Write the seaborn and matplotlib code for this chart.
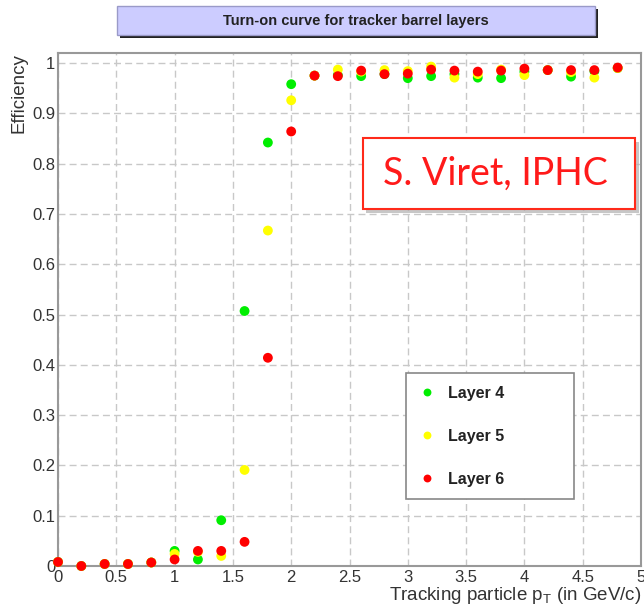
import numpy as np
import pandas as pd
import matplotlib
matplotlib.use("Agg")
import matplotlib.pyplot as plt
import matplotlib.patches as mpatches
from matplotlib.ticker import MultipleLocator, FuncFormatter
import seaborn as sns

# data
pt = [0.0, 0.2, 0.4, 0.6, 0.8, 1.0, 1.2, 1.4, 1.6, 1.8, 2.0, 2.2, 2.4,
      2.6, 2.8, 3.0, 3.2, 3.4, 3.6, 3.8, 4.0, 4.2, 4.4, 4.6, 4.8]
layer4 = [0.008, 0.0, 0.004, 0.004, 0.007, 0.030, 0.013, 0.091, 0.507, 0.842, 0.958, 0.975, 0.976,
          0.974, 0.978, 0.970, 0.974, 0.978, 0.971, 0.970, 0.983, 0.986, 0.973, 0.984, 0.990]
layer5 = [0.008, 0.0, 0.004, 0.004, 0.007, 0.024, 0.028, 0.020, 0.191, 0.667, 0.926, 0.975, 0.987,
          0.983, 0.986, 0.984, 0.993, 0.971, 0.978, 0.987, 0.976, 0.986, 0.982, 0.971, 0.990]
layer6 = [0.008, 0.0, 0.004, 0.004, 0.007, 0.013, 0.030, 0.030, 0.048, 0.414, 0.864, 0.975, 0.974,
          0.985, 0.978, 0.979, 0.987, 0.985, 0.983, 0.985, 0.989, 0.986, 0.986, 0.986, 0.991]
layer_names = ["Layer 4", "Layer 5", "Layer 6"]
layer_colors = ["#00ee00", "#ffff00", "#ff0000"]

df = pd.concat([
    pd.DataFrame({"pt": pt, "eff": vals, "layer": name})
    for name, vals in zip(layer_names, [layer4, layer5, layer6])
], ignore_index=True)

sns.set_style("white")
plt.rcParams["font.family"] = ["Liberation Sans", "DejaVu Sans"]

W, H = 644, 614
fig = plt.figure(figsize=(W / 100, H / 100), dpi=100)
# axes frame in pixels: left 58, right 641, top 53, bottom 566
ax = fig.add_axes([58 / W, 1 - 566 / H, (641 - 58) / W, (566 - 53) / H])

sns.scatterplot(data=df, x="pt", y="eff", hue="layer", palette=dict(zip(layer_names, layer_colors)),
                s=50, edgecolor="none", linewidth=0, clip_on=False, zorder=3, ax=ax)

ax.set_xlim(0, 5)
ax.set_ylim(0, 1.02)
ax.xaxis.set_major_locator(MultipleLocator(0.5))
ax.xaxis.set_minor_locator(MultipleLocator(0.1))
ax.yaxis.set_major_locator(MultipleLocator(0.1))
ax.yaxis.set_minor_locator(MultipleLocator(0.02))
fmt = FuncFormatter(lambda v, p: "%g" % round(v, 2))
ax.xaxis.set_major_formatter(fmt)
ax.yaxis.set_major_formatter(fmt)
ax.tick_params(which="both", direction="in", colors="#888888", labelcolor="#333333",
               labelsize=12, width=1.2)
ax.tick_params(which="major", length=11)
ax.tick_params(which="minor", length=5)
ax.tick_params(axis="x", pad=3)
ax.tick_params(axis="y", pad=2)
ax.grid(True, which="major", linestyle=(0, (5, 3)), color="#c8c8c8", linewidth=1)
for side, sp in ax.spines.items():
    sp.set_color("#999999")
    sp.set_linewidth(1.5)

ax.set_xlabel("Tracking particle p$_\\mathregular{T}$ (in GeV/c)", fontsize=13.5, color="#333333",
              loc="right", labelpad=0)
ax.set_ylabel("Efficiency", fontsize=13.5, color="#333333", loc="top", labelpad=3)

# legend box in pixels: x 406-574, y 373-502
leg = ax.legend(loc="upper left", mode="expand",
                bbox_to_anchor=((406 - 58) / 583, (566 - 502) / 513, (574 - 406) / 583, (502 - 373) / 513),
                frameon=True, fancybox=False, edgecolor="#888888", framealpha=1,
                prop={"weight": "bold", "size": 11.5}, labelspacing=1.75, handlelength=1.0,
                handletextpad=0.8, borderpad=0.8, markerscale=0.8, borderaxespad=0)
for t in leg.get_texts():
    t.set_color("#222222")
leg.get_frame().set_linewidth(1.2)

# title box with shadow (figure pixels)
def fig_rect(x0, y0, x1, y1, **kw):
    r = mpatches.Rectangle((x0 / W, 1 - y1 / H), (x1 - x0) / W, (y1 - y0) / H,
                           transform=fig.transFigure, **kw)
    fig.patches.append(r)

fig_rect(120, 9, 598, 38, facecolor="#222222", edgecolor="none")
fig_rect(117, 6, 595, 35, facecolor="#ccccff", edgecolor="#9a9ac8", linewidth=1)
fig.text((117 + 595) / 2 / W, 1 - 21 / H, "Turn-on curve for tracker barrel layers",
         ha="center", va="center", fontsize=10.5, fontweight="bold", color="#222222")

# annotation box
fig_rect(366, 142, 639, 213, facecolor="#b0b0b0", edgecolor="none", alpha=0.7, zorder=5)
fig_rect(363, 138, 635, 209, facecolor="white", edgecolor="#ff2a1a", linewidth=1.5, zorder=6)
fig.text(495 / W, 1 - 174 / H, "S. Viret, IPHC", ha="center", va="center",
         fontsize=27, color="#ff1a1a", family=["Lato", "DejaVu Sans"], zorder=7)

fig.savefig("out.png", dpi=100)
